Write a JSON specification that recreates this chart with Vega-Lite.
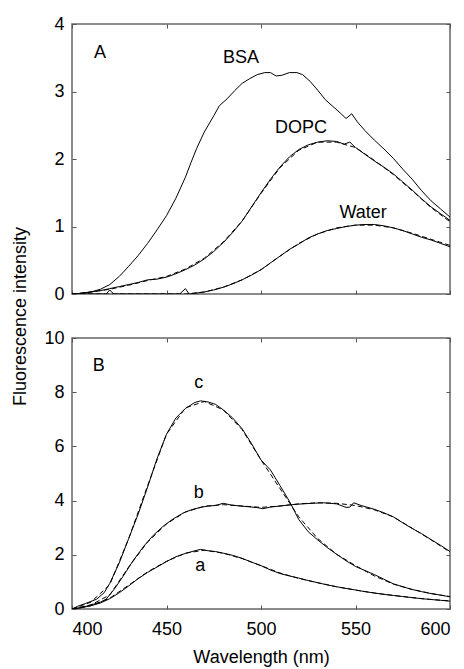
{
  "$schema": "https://vega.github.io/schema/vega-lite/v6.json",
  "padding": {"left": 11, "top": 14, "right": 0, "bottom": 2},
  "spacing": 44,
  "bounds": "flush",
  "config": {
    "font": "Liberation Sans",
    "view": {"stroke": "#666666", "strokeWidth": 1.5},
    "axis": {
      "domain": false, "grid": false, "tickColor": "#555555", "tickSize": -4,
      "labelFont": "Liberation Sans", "labelFontSize": 18, "labelColor": "#000000",
      "titleFont": "Liberation Sans", "titleFontSize": 18, "titleFontWeight": "normal", "titleColor": "#000000"
    },
    "text": {"font": "Liberation Sans", "fontSize": 18, "color": "#000000"}
  },
  "datasets": {
    "A": [
      {"w":400,"v":0.0,"s":"BSA","k":"m"},{"w":405,"v":0.01,"s":"BSA","k":"m"},{"w":410,"v":0.03,"s":"BSA","k":"m"},{"w":415,"v":0.07,"s":"BSA","k":"m"},{"w":420,"v":0.14,"s":"BSA","k":"m"},{"w":425,"v":0.26,"s":"BSA","k":"m"},{"w":430,"v":0.41,"s":"BSA","k":"m"},{"w":435,"v":0.57,"s":"BSA","k":"m"},{"w":440,"v":0.75,"s":"BSA","k":"m"},{"w":445,"v":0.95,"s":"BSA","k":"m"},{"w":450,"v":1.16,"s":"BSA","k":"m"},{"w":455,"v":1.42,"s":"BSA","k":"m"},{"w":460,"v":1.73,"s":"BSA","k":"m"},{"w":463,"v":1.95,"s":"BSA","k":"m"},{"w":466,"v":2.16,"s":"BSA","k":"m"},{"w":470,"v":2.4,"s":"BSA","k":"m"},{"w":475,"v":2.64,"s":"BSA","k":"m"},{"w":478,"v":2.79,"s":"BSA","k":"m"},{"w":482,"v":2.89,"s":"BSA","k":"m"},{"w":486,"v":3.01,"s":"BSA","k":"m"},{"w":490,"v":3.12,"s":"BSA","k":"m"},{"w":494,"v":3.19,"s":"BSA","k":"m"},{"w":498,"v":3.25,"s":"BSA","k":"m"},{"w":502,"v":3.28,"s":"BSA","k":"m"},{"w":505,"v":3.28,"s":"BSA","k":"m"},{"w":508,"v":3.23,"s":"BSA","k":"m"},{"w":511,"v":3.24,"s":"BSA","k":"m"},{"w":515,"v":3.28,"s":"BSA","k":"m"},{"w":519,"v":3.28,"s":"BSA","k":"m"},{"w":522,"v":3.25,"s":"BSA","k":"m"},{"w":526,"v":3.15,"s":"BSA","k":"m"},{"w":530,"v":3.02,"s":"BSA","k":"m"},{"w":534,"v":2.88,"s":"BSA","k":"m"},{"w":538,"v":2.78,"s":"BSA","k":"m"},{"w":542,"v":2.68,"s":"BSA","k":"m"},{"w":545,"v":2.6,"s":"BSA","k":"m"},{"w":548,"v":2.67,"s":"BSA","k":"m"},{"w":551,"v":2.55,"s":"BSA","k":"m"},{"w":555,"v":2.42,"s":"BSA","k":"m"},{"w":560,"v":2.28,"s":"BSA","k":"m"},{"w":565,"v":2.15,"s":"BSA","k":"m"},{"w":570,"v":2.01,"s":"BSA","k":"m"},{"w":575,"v":1.85,"s":"BSA","k":"m"},{"w":580,"v":1.7,"s":"BSA","k":"m"},{"w":585,"v":1.53,"s":"BSA","k":"m"},{"w":590,"v":1.38,"s":"BSA","k":"m"},{"w":595,"v":1.26,"s":"BSA","k":"m"},{"w":600,"v":1.14,"s":"BSA","k":"m"},
      {"w":400,"v":0.0,"s":"DOPC","k":"m"},{"w":405,"v":0.01,"s":"DOPC","k":"m"},{"w":410,"v":0.03,"s":"DOPC","k":"m"},{"w":415,"v":0.05,"s":"DOPC","k":"m"},{"w":420,"v":0.08,"s":"DOPC","k":"m"},{"w":425,"v":0.11,"s":"DOPC","k":"m"},{"w":430,"v":0.14,"s":"DOPC","k":"m"},{"w":435,"v":0.17,"s":"DOPC","k":"m"},{"w":440,"v":0.21,"s":"DOPC","k":"m"},{"w":445,"v":0.22,"s":"DOPC","k":"m"},{"w":450,"v":0.25,"s":"DOPC","k":"m"},{"w":455,"v":0.3,"s":"DOPC","k":"m"},{"w":460,"v":0.36,"s":"DOPC","k":"m"},{"w":465,"v":0.43,"s":"DOPC","k":"m"},{"w":470,"v":0.52,"s":"DOPC","k":"m"},{"w":475,"v":0.63,"s":"DOPC","k":"m"},{"w":480,"v":0.76,"s":"DOPC","k":"m"},{"w":485,"v":0.91,"s":"DOPC","k":"m"},{"w":490,"v":1.08,"s":"DOPC","k":"m"},{"w":495,"v":1.29,"s":"DOPC","k":"m"},{"w":500,"v":1.5,"s":"DOPC","k":"m"},{"w":505,"v":1.7,"s":"DOPC","k":"m"},{"w":510,"v":1.88,"s":"DOPC","k":"m"},{"w":515,"v":2.03,"s":"DOPC","k":"m"},{"w":520,"v":2.14,"s":"DOPC","k":"m"},{"w":525,"v":2.21,"s":"DOPC","k":"m"},{"w":530,"v":2.25,"s":"DOPC","k":"m"},{"w":535,"v":2.27,"s":"DOPC","k":"m"},{"w":540,"v":2.26,"s":"DOPC","k":"m"},{"w":544,"v":2.22,"s":"DOPC","k":"m"},{"w":547,"v":2.25,"s":"DOPC","k":"m"},{"w":550,"v":2.17,"s":"DOPC","k":"m"},{"w":555,"v":2.07,"s":"DOPC","k":"m"},{"w":560,"v":1.97,"s":"DOPC","k":"m"},{"w":565,"v":1.88,"s":"DOPC","k":"m"},{"w":570,"v":1.78,"s":"DOPC","k":"m"},{"w":575,"v":1.66,"s":"DOPC","k":"m"},{"w":580,"v":1.54,"s":"DOPC","k":"m"},{"w":585,"v":1.41,"s":"DOPC","k":"m"},{"w":590,"v":1.29,"s":"DOPC","k":"m"},{"w":595,"v":1.19,"s":"DOPC","k":"m"},{"w":600,"v":1.09,"s":"DOPC","k":"m"},
      {"w":400,"v":0.0,"s":"Water","k":"m"},{"w":418,"v":0.0,"s":"Water","k":"m"},{"w":420,"v":0.06,"s":"Water","k":"m"},{"w":422,"v":0.0,"s":"Water","k":"m"},{"w":457,"v":0.0,"s":"Water","k":"m"},{"w":460,"v":0.08,"s":"Water","k":"m"},{"w":462,"v":0.0,"s":"Water","k":"m"},{"w":465,"v":0.01,"s":"Water","k":"m"},{"w":470,"v":0.03,"s":"Water","k":"m"},{"w":475,"v":0.06,"s":"Water","k":"m"},{"w":480,"v":0.1,"s":"Water","k":"m"},{"w":485,"v":0.15,"s":"Water","k":"m"},{"w":490,"v":0.21,"s":"Water","k":"m"},{"w":495,"v":0.28,"s":"Water","k":"m"},{"w":500,"v":0.36,"s":"Water","k":"m"},{"w":505,"v":0.46,"s":"Water","k":"m"},{"w":510,"v":0.56,"s":"Water","k":"m"},{"w":515,"v":0.66,"s":"Water","k":"m"},{"w":520,"v":0.74,"s":"Water","k":"m"},{"w":525,"v":0.83,"s":"Water","k":"m"},{"w":530,"v":0.89,"s":"Water","k":"m"},{"w":535,"v":0.94,"s":"Water","k":"m"},{"w":540,"v":0.97,"s":"Water","k":"m"},{"w":545,"v":1.0,"s":"Water","k":"m"},{"w":550,"v":1.02,"s":"Water","k":"m"},{"w":555,"v":1.03,"s":"Water","k":"m"},{"w":560,"v":1.03,"s":"Water","k":"m"},{"w":565,"v":1.01,"s":"Water","k":"m"},{"w":570,"v":0.98,"s":"Water","k":"m"},{"w":575,"v":0.94,"s":"Water","k":"m"},{"w":580,"v":0.89,"s":"Water","k":"m"},{"w":585,"v":0.84,"s":"Water","k":"m"},{"w":590,"v":0.8,"s":"Water","k":"m"},{"w":595,"v":0.75,"s":"Water","k":"m"},{"w":600,"v":0.7,"s":"Water","k":"m"},
      {"w":400,"v":0.0,"s":"DOPC","k":"f"},{"w":410,"v":0.03,"s":"DOPC","k":"f"},{"w":420,"v":0.07,"s":"DOPC","k":"f"},{"w":430,"v":0.13,"s":"DOPC","k":"f"},{"w":440,"v":0.2,"s":"DOPC","k":"f"},{"w":450,"v":0.26,"s":"DOPC","k":"f"},{"w":460,"v":0.37,"s":"DOPC","k":"f"},{"w":470,"v":0.53,"s":"DOPC","k":"f"},{"w":480,"v":0.77,"s":"DOPC","k":"f"},{"w":490,"v":1.08,"s":"DOPC","k":"f"},{"w":500,"v":1.49,"s":"DOPC","k":"f"},{"w":510,"v":1.87,"s":"DOPC","k":"f"},{"w":520,"v":2.13,"s":"DOPC","k":"f"},{"w":530,"v":2.25,"s":"DOPC","k":"f"},{"w":540,"v":2.25,"s":"DOPC","k":"f"},{"w":550,"v":2.17,"s":"DOPC","k":"f"},{"w":560,"v":1.98,"s":"DOPC","k":"f"},{"w":570,"v":1.77,"s":"DOPC","k":"f"},{"w":580,"v":1.53,"s":"DOPC","k":"f"},{"w":590,"v":1.28,"s":"DOPC","k":"f"},{"w":600,"v":1.07,"s":"DOPC","k":"f"},
      {"w":400,"v":0.0,"s":"Water","k":"f"},{"w":460,"v":0.0,"s":"Water","k":"f"},{"w":470,"v":0.03,"s":"Water","k":"f"},{"w":480,"v":0.1,"s":"Water","k":"f"},{"w":490,"v":0.21,"s":"Water","k":"f"},{"w":500,"v":0.36,"s":"Water","k":"f"},{"w":510,"v":0.56,"s":"Water","k":"f"},{"w":520,"v":0.75,"s":"Water","k":"f"},{"w":530,"v":0.89,"s":"Water","k":"f"},{"w":540,"v":0.98,"s":"Water","k":"f"},{"w":550,"v":1.02,"s":"Water","k":"f"},{"w":560,"v":1.02,"s":"Water","k":"f"},{"w":570,"v":0.98,"s":"Water","k":"f"},{"w":580,"v":0.9,"s":"Water","k":"f"},{"w":590,"v":0.81,"s":"Water","k":"f"},{"w":600,"v":0.72,"s":"Water","k":"f"}
    ],
    "Alab": [
      {"w":414.8,"v":3.57,"t":"A"},{"w":489.4,"v":3.5,"t":"BSA"},{"w":521.2,"v":2.46,"t":"DOPC"},{"w":554,"v":1.2,"t":"Water"}
    ],
    "B": [
      {"w":400,"v":0.0,"s":"c","k":"m"},{"w":403,"v":0.1,"s":"c","k":"m"},{"w":407,"v":0.2,"s":"c","k":"m"},{"w":410,"v":0.28,"s":"c","k":"m"},{"w":413,"v":0.36,"s":"c","k":"m"},{"w":417,"v":0.6,"s":"c","k":"m"},{"w":420,"v":0.95,"s":"c","k":"m"},{"w":425,"v":1.7,"s":"c","k":"m"},{"w":430,"v":2.6,"s":"c","k":"m"},{"w":435,"v":3.5,"s":"c","k":"m"},{"w":440,"v":4.5,"s":"c","k":"m"},{"w":445,"v":5.55,"s":"c","k":"m"},{"w":450,"v":6.45,"s":"c","k":"m"},{"w":455,"v":7.05,"s":"c","k":"m"},{"w":460,"v":7.4,"s":"c","k":"m"},{"w":465,"v":7.62,"s":"c","k":"m"},{"w":468,"v":7.68,"s":"c","k":"m"},{"w":472,"v":7.64,"s":"c","k":"m"},{"w":476,"v":7.55,"s":"c","k":"m"},{"w":480,"v":7.35,"s":"c","k":"m"},{"w":485,"v":7.05,"s":"c","k":"m"},{"w":490,"v":6.65,"s":"c","k":"m"},{"w":495,"v":6.1,"s":"c","k":"m"},{"w":500,"v":5.5,"s":"c","k":"m"},{"w":505,"v":5.13,"s":"c","k":"m"},{"w":510,"v":4.56,"s":"c","k":"m"},{"w":515,"v":3.98,"s":"c","k":"m"},{"w":520,"v":3.3,"s":"c","k":"m"},{"w":525,"v":2.85,"s":"c","k":"m"},{"w":530,"v":2.55,"s":"c","k":"m"},{"w":535,"v":2.27,"s":"c","k":"m"},{"w":540,"v":2.02,"s":"c","k":"m"},{"w":545,"v":1.78,"s":"c","k":"m"},{"w":550,"v":1.57,"s":"c","k":"m"},{"w":555,"v":1.42,"s":"c","k":"m"},{"w":560,"v":1.27,"s":"c","k":"m"},{"w":565,"v":1.1,"s":"c","k":"m"},{"w":570,"v":0.93,"s":"c","k":"m"},{"w":575,"v":0.82,"s":"c","k":"m"},{"w":580,"v":0.72,"s":"c","k":"m"},{"w":585,"v":0.64,"s":"c","k":"m"},{"w":590,"v":0.57,"s":"c","k":"m"},{"w":595,"v":0.51,"s":"c","k":"m"},{"w":600,"v":0.45,"s":"c","k":"m"},
      {"w":400,"v":0.0,"s":"b","k":"m"},{"w":405,"v":0.05,"s":"b","k":"m"},{"w":410,"v":0.15,"s":"b","k":"m"},{"w":415,"v":0.25,"s":"b","k":"m"},{"w":418,"v":0.36,"s":"b","k":"m"},{"w":422,"v":0.7,"s":"b","k":"m"},{"w":427,"v":1.2,"s":"b","k":"m"},{"w":432,"v":1.75,"s":"b","k":"m"},{"w":438,"v":2.32,"s":"b","k":"m"},{"w":443,"v":2.72,"s":"b","k":"m"},{"w":448,"v":3.04,"s":"b","k":"m"},{"w":453,"v":3.3,"s":"b","k":"m"},{"w":459,"v":3.55,"s":"b","k":"m"},{"w":464,"v":3.68,"s":"b","k":"m"},{"w":468,"v":3.75,"s":"b","k":"m"},{"w":472,"v":3.8,"s":"b","k":"m"},{"w":476,"v":3.82,"s":"b","k":"m"},{"w":480,"v":3.9,"s":"b","k":"m"},{"w":484,"v":3.84,"s":"b","k":"m"},{"w":489,"v":3.8,"s":"b","k":"m"},{"w":494,"v":3.77,"s":"b","k":"m"},{"w":498,"v":3.74,"s":"b","k":"m"},{"w":501,"v":3.7,"s":"b","k":"m"},{"w":505,"v":3.76,"s":"b","k":"m"},{"w":510,"v":3.8,"s":"b","k":"m"},{"w":515,"v":3.84,"s":"b","k":"m"},{"w":520,"v":3.87,"s":"b","k":"m"},{"w":527,"v":3.9,"s":"b","k":"m"},{"w":533,"v":3.92,"s":"b","k":"m"},{"w":540,"v":3.88,"s":"b","k":"m"},{"w":545,"v":3.75,"s":"b","k":"m"},{"w":547,"v":3.76,"s":"b","k":"m"},{"w":549,"v":3.92,"s":"b","k":"m"},{"w":553,"v":3.82,"s":"b","k":"m"},{"w":560,"v":3.68,"s":"b","k":"m"},{"w":565,"v":3.55,"s":"b","k":"m"},{"w":570,"v":3.4,"s":"b","k":"m"},{"w":575,"v":3.18,"s":"b","k":"m"},{"w":580,"v":2.97,"s":"b","k":"m"},{"w":585,"v":2.78,"s":"b","k":"m"},{"w":590,"v":2.56,"s":"b","k":"m"},{"w":595,"v":2.35,"s":"b","k":"m"},{"w":600,"v":2.12,"s":"b","k":"m"},
      {"w":400,"v":0.0,"s":"a","k":"m"},{"w":405,"v":0.05,"s":"a","k":"m"},{"w":410,"v":0.12,"s":"a","k":"m"},{"w":415,"v":0.22,"s":"a","k":"m"},{"w":420,"v":0.38,"s":"a","k":"m"},{"w":425,"v":0.6,"s":"a","k":"m"},{"w":430,"v":0.85,"s":"a","k":"m"},{"w":435,"v":1.12,"s":"a","k":"m"},{"w":440,"v":1.35,"s":"a","k":"m"},{"w":445,"v":1.55,"s":"a","k":"m"},{"w":450,"v":1.75,"s":"a","k":"m"},{"w":455,"v":1.93,"s":"a","k":"m"},{"w":460,"v":2.05,"s":"a","k":"m"},{"w":465,"v":2.15,"s":"a","k":"m"},{"w":468,"v":2.2,"s":"a","k":"m"},{"w":472,"v":2.15,"s":"a","k":"m"},{"w":476,"v":2.12,"s":"a","k":"m"},{"w":480,"v":2.06,"s":"a","k":"m"},{"w":485,"v":1.98,"s":"a","k":"m"},{"w":490,"v":1.87,"s":"a","k":"m"},{"w":495,"v":1.73,"s":"a","k":"m"},{"w":500,"v":1.6,"s":"a","k":"m"},{"w":505,"v":1.44,"s":"a","k":"m"},{"w":510,"v":1.31,"s":"a","k":"m"},{"w":515,"v":1.22,"s":"a","k":"m"},{"w":520,"v":1.14,"s":"a","k":"m"},{"w":525,"v":1.05,"s":"a","k":"m"},{"w":530,"v":0.97,"s":"a","k":"m"},{"w":535,"v":0.89,"s":"a","k":"m"},{"w":540,"v":0.82,"s":"a","k":"m"},{"w":545,"v":0.76,"s":"a","k":"m"},{"w":550,"v":0.7,"s":"a","k":"m"},{"w":555,"v":0.64,"s":"a","k":"m"},{"w":560,"v":0.59,"s":"a","k":"m"},{"w":565,"v":0.54,"s":"a","k":"m"},{"w":570,"v":0.5,"s":"a","k":"m"},{"w":575,"v":0.46,"s":"a","k":"m"},{"w":580,"v":0.42,"s":"a","k":"m"},{"w":585,"v":0.38,"s":"a","k":"m"},{"w":590,"v":0.35,"s":"a","k":"m"},{"w":595,"v":0.32,"s":"a","k":"m"},{"w":600,"v":0.29,"s":"a","k":"m"},
      {"w":400,"v":0.0,"s":"c","k":"f"},{"w":410,"v":0.25,"s":"c","k":"f"},{"w":420,"v":0.9,"s":"c","k":"f"},{"w":430,"v":2.6,"s":"c","k":"f"},{"w":440,"v":4.55,"s":"c","k":"f"},{"w":450,"v":6.45,"s":"c","k":"f"},{"w":460,"v":7.42,"s":"c","k":"f"},{"w":470,"v":7.66,"s":"c","k":"f"},{"w":480,"v":7.35,"s":"c","k":"f"},{"w":490,"v":6.62,"s":"c","k":"f"},{"w":500,"v":5.5,"s":"c","k":"f"},{"w":510,"v":4.45,"s":"c","k":"f"},{"w":520,"v":3.4,"s":"c","k":"f"},{"w":530,"v":2.6,"s":"c","k":"f"},{"w":540,"v":2.02,"s":"c","k":"f"},{"w":550,"v":1.6,"s":"c","k":"f"},{"w":560,"v":1.22,"s":"c","k":"f"},{"w":570,"v":0.92,"s":"c","k":"f"},{"w":580,"v":0.72,"s":"c","k":"f"},{"w":590,"v":0.57,"s":"c","k":"f"},{"w":600,"v":0.46,"s":"c","k":"f"},
      {"w":400,"v":0.0,"s":"b","k":"f"},{"w":410,"v":0.15,"s":"b","k":"f"},{"w":420,"v":0.52,"s":"b","k":"f"},{"w":430,"v":1.55,"s":"b","k":"f"},{"w":440,"v":2.47,"s":"b","k":"f"},{"w":450,"v":3.14,"s":"b","k":"f"},{"w":460,"v":3.58,"s":"b","k":"f"},{"w":470,"v":3.79,"s":"b","k":"f"},{"w":480,"v":3.85,"s":"b","k":"f"},{"w":490,"v":3.8,"s":"b","k":"f"},{"w":500,"v":3.75,"s":"b","k":"f"},{"w":510,"v":3.8,"s":"b","k":"f"},{"w":520,"v":3.88,"s":"b","k":"f"},{"w":530,"v":3.92,"s":"b","k":"f"},{"w":540,"v":3.9,"s":"b","k":"f"},{"w":550,"v":3.82,"s":"b","k":"f"},{"w":560,"v":3.66,"s":"b","k":"f"},{"w":570,"v":3.4,"s":"b","k":"f"},{"w":580,"v":2.98,"s":"b","k":"f"},{"w":590,"v":2.55,"s":"b","k":"f"},{"w":600,"v":2.1,"s":"b","k":"f"},
      {"w":400,"v":0.0,"s":"a","k":"f"},{"w":410,"v":0.12,"s":"a","k":"f"},{"w":420,"v":0.4,"s":"a","k":"f"},{"w":430,"v":0.88,"s":"a","k":"f"},{"w":440,"v":1.37,"s":"a","k":"f"},{"w":450,"v":1.76,"s":"a","k":"f"},{"w":460,"v":2.06,"s":"a","k":"f"},{"w":470,"v":2.17,"s":"a","k":"f"},{"w":480,"v":2.06,"s":"a","k":"f"},{"w":490,"v":1.86,"s":"a","k":"f"},{"w":500,"v":1.6,"s":"a","k":"f"},{"w":510,"v":1.33,"s":"a","k":"f"},{"w":520,"v":1.13,"s":"a","k":"f"},{"w":530,"v":0.97,"s":"a","k":"f"},{"w":540,"v":0.82,"s":"a","k":"f"},{"w":550,"v":0.7,"s":"a","k":"f"},{"w":560,"v":0.59,"s":"a","k":"f"},{"w":570,"v":0.5,"s":"a","k":"f"},{"w":580,"v":0.42,"s":"a","k":"f"},{"w":590,"v":0.35,"s":"a","k":"f"},{"w":600,"v":0.3,"s":"a","k":"f"}
    ],
    "Blab": [
      {"w":414.1,"v":8.97,"t":"B"},{"w":467,"v":8.35,"t":"c"},{"w":467,"v":4.29,"t":"b"},{"w":467.9,"v":1.59,"t":"a"}
    ]
  },
  "vconcat": [
    {
      "width": 378, "height": 270,
      "resolve": {"axis": {"x": "independent", "y": "independent"}},
      "layer": [
        {
          "data": {"name": "A"},
          "transform": [{"filter": "datum.k == 'm'"}],
          "mark": {"type": "line", "color": "#000000", "strokeWidth": 1, "clip": true},
          "encoding": {
            "x": {"field": "w", "type": "quantitative", "scale": {"domain": [400, 600], "nice": false},
                  "axis": {"orient": "bottom", "values": [400,450,500,550,600], "labels": false, "title": null}},
            "y": {"field": "v", "type": "quantitative", "scale": {"domain": [0, 4], "nice": false},
                  "axis": {"orient": "left", "values": [0,1,2,3,4], "title": null, "labelPadding": 12}},
            "detail": {"field": "s"}
          }
        },
        {
          "data": {"name": "A"},
          "transform": [{"filter": "datum.k == 'f'"}],
          "mark": {"type": "line", "color": "#000000", "strokeWidth": 1, "strokeDash": [5, 3], "clip": true},
          "encoding": {
            "x": {"field": "w", "type": "quantitative", "axis": {"orient": "top", "values": [400,450,500,550,600], "labels": false, "title": null}},
            "y": {"field": "v", "type": "quantitative", "axis": {"orient": "right", "values": [0,1,2,3,4], "labels": false, "title": null}},
            "detail": {"field": "s"}
          }
        },
        {
          "data": {"name": "Alab"},
          "mark": {"type": "text", "align": "center", "baseline": "middle"},
          "encoding": {
            "x": {"field": "w", "type": "quantitative", "axis": null},
            "y": {"field": "v", "type": "quantitative", "axis": null},
            "text": {"field": "t"}
          }
        }
      ]
    },
    {
      "width": 378, "height": 271,
      "resolve": {"axis": {"x": "independent", "y": "independent"}},
      "layer": [
        {
          "data": {"name": "B"},
          "transform": [{"filter": "datum.k == 'm'"}],
          "mark": {"type": "line", "color": "#000000", "strokeWidth": 1, "clip": true},
          "encoding": {
            "x": {"field": "w", "type": "quantitative", "scale": {"domain": [400, 600], "nice": false},
                  "axis": {"orient": "bottom", "values": [400,450,500,550,600], "title": "Wavelength (nm)", "labelPadding": 15, "titlePadding": 10}},
            "y": {"field": "v", "type": "quantitative", "scale": {"domain": [0, 10], "nice": false},
                  "axis": {"orient": "left", "values": [0,2,4,6,8,10], "title": "Fluorescence intensity", "titleY": -22, "labelPadding": 12, "titlePadding": 14}},
            "detail": {"field": "s"}
          }
        },
        {
          "data": {"name": "B"},
          "transform": [{"filter": "datum.k == 'f'"}],
          "mark": {"type": "line", "color": "#000000", "strokeWidth": 1, "strokeDash": [5, 3], "clip": true},
          "encoding": {
            "x": {"field": "w", "type": "quantitative", "axis": {"orient": "top", "values": [400,450,500,550,600], "labels": false, "title": null}},
            "y": {"field": "v", "type": "quantitative", "axis": {"orient": "right", "values": [0,2,4,6,8,10], "labels": false, "title": null}},
            "detail": {"field": "s"}
          }
        },
        {
          "data": {"name": "Blab"},
          "mark": {"type": "text", "align": "center", "baseline": "middle"},
          "encoding": {
            "x": {"field": "w", "type": "quantitative", "axis": null},
            "y": {"field": "v", "type": "quantitative", "axis": null},
            "text": {"field": "t"}
          }
        }
      ]
    }
  ]
}
